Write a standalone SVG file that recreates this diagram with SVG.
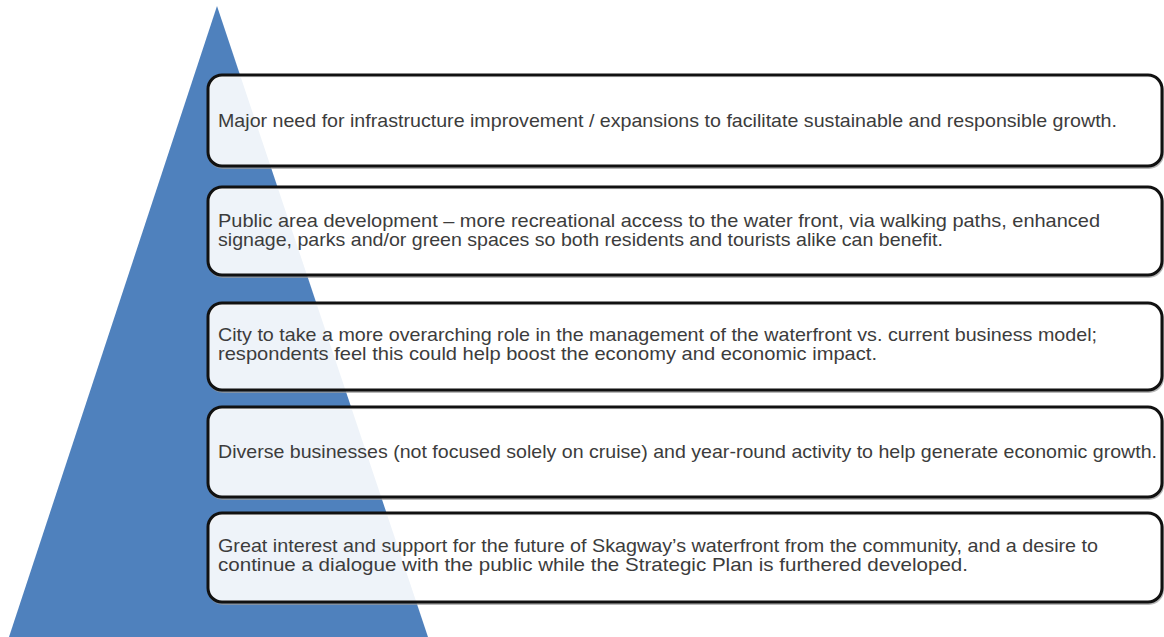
<svg xmlns="http://www.w3.org/2000/svg" width="1164" height="637" viewBox="0 0 1164 637">
<style>
.box{fill:#ffffff;fill-opacity:0.9;stroke:#111111;stroke-width:3}
.sh{fill:none;stroke:#9a9a9a;stroke-width:2;stroke-opacity:0.7}
.t{font-family:"Liberation Sans",Arial,sans-serif;font-size:18.5px;fill:#3c3c3c}
</style>
<rect width="1164" height="637" fill="#ffffff"/>
<g id="pyramid">
<polygon points="217,6 9,637 428,637" fill="#4f81bd"/>
</g>
<g id="connectors"></g>
<g id="node1">
<rect class="sh" x="209" y="77" width="954" height="91" rx="14"/>
<rect class="box" x="208" y="75" width="954" height="91" rx="14"/>
<text class="t" x="218" y="127" textLength="899" lengthAdjust="spacingAndGlyphs">Major need for infrastructure improvement / expansions to facilitate sustainable and responsible growth.</text>
</g>
<g id="node2">
<rect class="sh" x="209" y="189" width="954" height="88" rx="14"/>
<rect class="box" x="208" y="187" width="954" height="88" rx="14"/>
<text class="t" x="218" y="227" textLength="882" lengthAdjust="spacingAndGlyphs">Public area development – more recreational access to the water front, via walking paths, enhanced</text>
<text class="t" x="218" y="246" textLength="725" lengthAdjust="spacingAndGlyphs">signage, parks and/or green spaces so both residents and tourists alike can benefit.</text>
</g>
<g id="node3">
<rect class="sh" x="209" y="305" width="954" height="87" rx="14"/>
<rect class="box" x="208" y="303" width="954" height="87" rx="14"/>
<text class="t" x="218" y="341" textLength="879" lengthAdjust="spacingAndGlyphs">City to take a more overarching role in the management of the waterfront vs. current business model;</text>
<text class="t" x="218" y="360" textLength="659" lengthAdjust="spacingAndGlyphs">respondents feel this could help boost the economy and economic impact.</text>
</g>
<g id="node4">
<rect class="sh" x="209" y="409" width="954" height="90" rx="14"/>
<rect class="box" x="208" y="407" width="954" height="90" rx="14"/>
<text class="t" x="218" y="458" textLength="939" lengthAdjust="spacingAndGlyphs">Diverse businesses (not focused solely on cruise) and year-round activity to help generate economic growth.</text>
</g>
<g id="node5">
<rect class="sh" x="209" y="515" width="954" height="89" rx="14"/>
<rect class="box" x="208" y="513" width="954" height="89" rx="14"/>
<text class="t" x="218" y="552" textLength="880" lengthAdjust="spacingAndGlyphs">Great interest and support for the future of Skagway’s waterfront from the community, and a desire to</text>
<text class="t" x="218" y="571" textLength="750" lengthAdjust="spacingAndGlyphs">continue a dialogue with the public while the Strategic Plan is furthered developed.</text>
</g>
</svg>
